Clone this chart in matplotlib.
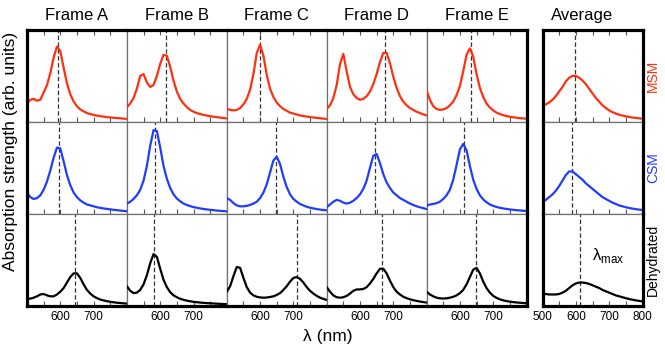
import matplotlib
matplotlib.use("Agg")
import matplotlib.pyplot as plt

plt.rcParams["font.family"] = ["Liberation Sans", "DejaVu Sans"]
plt.rcParams["mathtext.fontset"] = "custom"
plt.rcParams["mathtext.rm"] = "Liberation Sans"

# wavelength grid (nm), 10 nm steps
wavelength = list(range(500, 801, 10))

frame_titles = ["Frame A", "Frame B", "Frame C", "Frame D", "Frame E", "Average"]
row_names = ["MSM", "CSM", "Dehydrated"]

# absorption (arb. units, normalised to panel height)
msm_a = [0.20, 0.24, 0.25, 0.23, 0.24, 0.32, 0.40, 0.53, 0.70, 0.82,
         0.77, 0.59, 0.42, 0.30, 0.22, 0.17, 0.135, 0.115, 0.095, 0.085,
         0.075, 0.068, 0.062, 0.057, 0.052, 0.048, 0.044, 0.041, 0.038, 0.035, 0.032]
csm_a = [0.23, 0.18, 0.16, 0.17, 0.20, 0.26, 0.35, 0.47, 0.61, 0.72,
         0.71, 0.57, 0.42, 0.31, 0.23, 0.18, 0.145, 0.12, 0.10, 0.09,
         0.08, 0.07, 0.063, 0.057, 0.052, 0.047, 0.042, 0.038, 0.034, 0.030, 0.027]
dehyd_a = [0.07, 0.075, 0.085, 0.10, 0.12, 0.125, 0.11, 0.10, 0.10, 0.12,
           0.15, 0.19, 0.25, 0.31, 0.35, 0.35, 0.30, 0.23, 0.17, 0.13,
           0.10, 0.08, 0.065, 0.055, 0.047, 0.04, 0.035, 0.03, 0.027, 0.024, 0.02]

msm_b = [0.16, 0.20, 0.26, 0.36, 0.50, 0.52, 0.43, 0.38, 0.40, 0.50,
         0.63, 0.73, 0.72, 0.60, 0.45, 0.33, 0.25, 0.20, 0.16, 0.13,
         0.11, 0.095, 0.085, 0.075, 0.068, 0.062, 0.056, 0.051, 0.046, 0.041, 0.037]
csm_b = [0.11, 0.13, 0.16, 0.20, 0.26, 0.36, 0.52, 0.74, 0.91, 0.90,
         0.72, 0.52, 0.38, 0.28, 0.21, 0.165, 0.135, 0.11, 0.095, 0.082,
         0.072, 0.064, 0.057, 0.051, 0.046, 0.042, 0.038, 0.034, 0.031, 0.028, 0.025]
dehyd_b = [0.21, 0.16, 0.135, 0.14, 0.17, 0.23, 0.33, 0.46, 0.56, 0.53,
           0.40, 0.28, 0.20, 0.145, 0.11, 0.09, 0.073, 0.062, 0.053, 0.046,
           0.04, 0.036, 0.032, 0.029, 0.026, 0.024, 0.022, 0.02, 0.018, 0.016, 0.015]

msm_c = [0.14, 0.13, 0.125, 0.13, 0.15, 0.19, 0.25, 0.35, 0.52, 0.75,
         0.84, 0.72, 0.51, 0.36, 0.27, 0.21, 0.17, 0.14, 0.12, 0.10,
         0.09, 0.08, 0.07, 0.063, 0.057, 0.052, 0.047, 0.043, 0.039, 0.035, 0.032]
csm_c = [0.17, 0.15, 0.115, 0.09, 0.08, 0.08, 0.085, 0.095, 0.11, 0.13,
         0.17, 0.23, 0.32, 0.45, 0.58, 0.62, 0.54, 0.40, 0.29, 0.21,
         0.16, 0.13, 0.105, 0.09, 0.075, 0.065, 0.057, 0.05, 0.044, 0.04, 0.036]
dehyd_c = [0.15, 0.21, 0.32, 0.42, 0.41, 0.30, 0.20, 0.14, 0.11, 0.095,
           0.088, 0.085, 0.087, 0.093, 0.10, 0.115, 0.135, 0.17, 0.21, 0.26,
           0.30, 0.31, 0.29, 0.25, 0.20, 0.16, 0.13, 0.105, 0.085, 0.072, 0.06]

msm_d = [0.14, 0.18, 0.26, 0.40, 0.63, 0.74, 0.55, 0.38, 0.30, 0.26,
         0.24, 0.25, 0.28, 0.33, 0.41, 0.52, 0.65, 0.75, 0.75, 0.64,
         0.49, 0.37, 0.28, 0.22, 0.18, 0.15, 0.13, 0.11, 0.095, 0.082, 0.07]
csm_d = [0.07, 0.10, 0.13, 0.15, 0.14, 0.12, 0.11, 0.12, 0.14, 0.17,
         0.21, 0.27, 0.36, 0.50, 0.63, 0.65, 0.55, 0.43, 0.34, 0.28,
         0.23, 0.20, 0.17, 0.15, 0.13, 0.11, 0.095, 0.08, 0.07, 0.06, 0.05]
dehyd_d = [0.20, 0.15, 0.11, 0.09, 0.085, 0.09, 0.105, 0.13, 0.16, 0.175,
           0.175, 0.18, 0.20, 0.24, 0.29, 0.35, 0.40, 0.40, 0.35, 0.27,
           0.20, 0.15, 0.12, 0.095, 0.08, 0.068, 0.058, 0.05, 0.043, 0.037, 0.032]

msm_e = [0.34, 0.24, 0.17, 0.14, 0.13, 0.135, 0.15, 0.18, 0.22, 0.29,
         0.39, 0.55, 0.73, 0.80, 0.71, 0.52, 0.37, 0.27, 0.20, 0.155,
         0.125, 0.10, 0.085, 0.072, 0.063, 0.055, 0.05, 0.045, 0.04, 0.037, 0.034]
csm_e = [0.09, 0.10, 0.105, 0.115, 0.13, 0.16, 0.20, 0.26, 0.37, 0.53,
         0.70, 0.76, 0.69, 0.52, 0.37, 0.27, 0.20, 0.155, 0.125, 0.10,
         0.085, 0.073, 0.064, 0.057, 0.051, 0.046, 0.042, 0.038, 0.035, 0.032, 0.03]
dehyd_e = [0.15, 0.12, 0.10, 0.085, 0.078, 0.076, 0.078, 0.085, 0.095, 0.11,
           0.135, 0.17, 0.23, 0.31, 0.39, 0.41, 0.35, 0.26, 0.19, 0.14,
           0.105, 0.083, 0.067, 0.056, 0.048, 0.042, 0.037, 0.033, 0.03, 0.027, 0.025]

msm_avg = [0.17, 0.19, 0.21, 0.24, 0.28, 0.33, 0.38, 0.44, 0.48, 0.50,
           0.50, 0.48, 0.45, 0.41, 0.36, 0.31, 0.26, 0.22, 0.18, 0.15,
           0.125, 0.105, 0.09, 0.078, 0.068, 0.06, 0.053, 0.047, 0.042, 0.038, 0.034]
csm_avg = [0.13, 0.15, 0.18, 0.21, 0.25, 0.30, 0.36, 0.42, 0.46, 0.46,
           0.43, 0.40, 0.37, 0.33, 0.30, 0.27, 0.24, 0.21, 0.18, 0.16,
           0.14, 0.12, 0.105, 0.09, 0.08, 0.07, 0.062, 0.055, 0.049, 0.044, 0.04]
dehyd_avg = [0.13, 0.125, 0.12, 0.12, 0.12, 0.125, 0.14, 0.16, 0.19, 0.22,
             0.24, 0.25, 0.25, 0.245, 0.235, 0.22, 0.205, 0.19, 0.17, 0.155,
             0.14, 0.125, 0.11, 0.10, 0.09, 0.08, 0.07, 0.063, 0.056, 0.05, 0.044]

# peak positions (dashed lines), frames A-E then average
lmax_msm = [594, 617, 601, 676, 633, 597]
lmax_csm = [597, 585, 649, 645, 611, 587]
lmax_dehyd = [645, 582, 712, 666, 647, 613]

spectra = [
    [msm_a, msm_b, msm_c, msm_d, msm_e, msm_avg],
    [csm_a, csm_b, csm_c, csm_d, csm_e, csm_avg],
    [dehyd_a, dehyd_b, dehyd_c, dehyd_d, dehyd_e, dehyd_avg],
]
peaks = [lmax_msm, lmax_csm, lmax_dehyd]
row_colors = ["#ff3010", "#1f3cff", "black"]

# layout in pixels
FIG_W, FIG_H = 665, 352
LEFT, FRAME_RIGHT = 27, 526.5
AVG_LEFT, AVG_RIGHT = 542.5, 642.5
TOP, BOTTOM = 30, 305.5
THICK, THIN = 2.3, 0.9


def px_rect(x0, x1, y0, y1):
    return [x0 / FIG_W, 1 - y1 / FIG_H, (x1 - x0) / FIG_W, (y1 - y0) / FIG_H]


def style_spines(ax, row, col):
    thick = {"top": row == 0, "bottom": row == 2,
             "left": col in (0, 5), "right": col in (4, 5)}
    for side, sp in ax.spines.items():
        if thick[side]:
            sp.set_linewidth(THICK)
            sp.set_color("black")
            sp.set_zorder(5)
        else:
            sp.set_linewidth(THIN)
            sp.set_color("#707070")


def main():
    fig = plt.figure(figsize=(FIG_W / 100, FIG_H / 100), dpi=100)
    row_h = (BOTTOM - TOP) / 3
    col_w = (FRAME_RIGHT - LEFT) / 5

    for row in range(3):
        y0 = TOP + row * row_h
        for col in range(6):
            if col < 5:
                x0, x1 = LEFT + col * col_w, LEFT + (col + 1) * col_w
            else:
                x0, x1 = AVG_LEFT, AVG_RIGHT
            ax = fig.add_axes(px_rect(x0, x1, y0, y0 + row_h))
            ax.plot(wavelength, spectra[row][col], color=row_colors[row],
                    lw=1.6, solid_capstyle="round", zorder=3)
            ax.axvline(peaks[row][col], color="#333333", lw=0.9,
                       linestyle=(0, (3.5, 2)), zorder=2)
            ax.set_xlim(500, 800)
            ax.set_ylim(0, 1)
            ax.set_yticks([])
            style_spines(ax, row, col)

            if col < 5:
                ax.set_xticks([550, 600, 650, 700, 750])
                labels = ["", "600", "", "700", ""]
            else:
                ax.set_xticks([500, 550, 600, 650, 700, 750, 800])
                labels = ["500", "", "600", "", "700", "", "800"]
            ax.tick_params(axis="x", direction="in", length=3.5, width=0.8,
                           color="#555555", top=(row == 0), bottom=True,
                           labelsize=8.5, pad=4)
            if row == 2:
                ax.set_xticklabels(labels)
            else:
                ax.set_xticklabels([])

            if row == 0:
                # the average title sits a little left of its panel centre
                title_x = 0.5 if col < 5 else 0.40
                ax.set_title(frame_titles[col], fontsize=12, pad=7, x=title_x)
            if row == 2 and col == 5:
                ax.text(650, 0.54, "λ$_{\\mathrm{max}}$", fontsize=12,
                        ha="left", va="center")

    for row, name in enumerate(row_names):
        yc = TOP + (row + 0.5) * row_h
        fig.text(653 / FIG_W, 1 - yc / FIG_H, name, rotation=90,
                 color=row_colors[row], fontsize=10, ha="center", va="center")

    fig.text(11 / FIG_W, 1 - 151 / FIG_H, "Absorption strength (arb. units)",
             rotation=90, fontsize=12.5, ha="center", va="center")
    fig.text(328 / FIG_W, 1 - 337 / FIG_H, "λ (nm)", fontsize=12.5,
             ha="center", va="center")

    fig.savefig("out.png", dpi=100)


if __name__ == "__main__":
    main()
